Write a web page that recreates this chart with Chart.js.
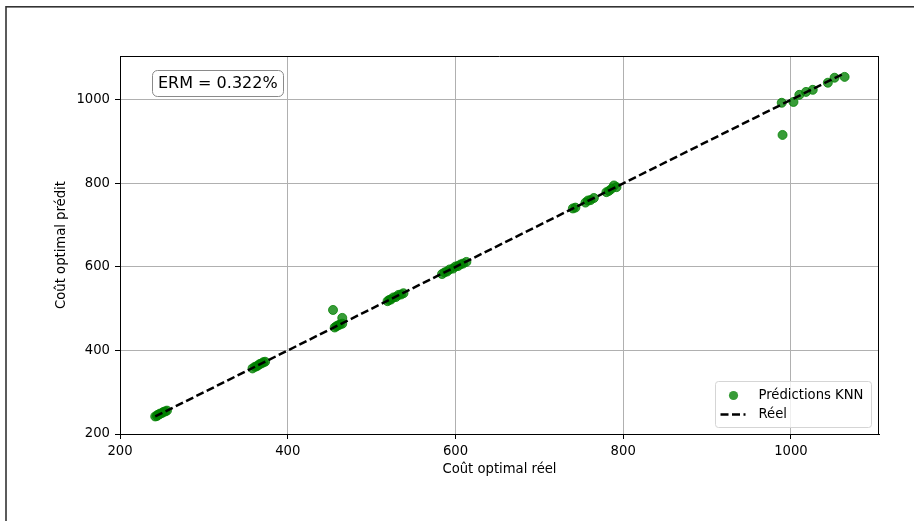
<!DOCTYPE html>
<html>
<head>
<meta charset="utf-8">
<script src="https://cdn.jsdelivr.net/npm/chart.js@4.4.1/dist/chart.umd.min.js"></script>
<style>
  html, body { margin: 0; padding: 0; background: #fff; }
  #wrap { position: relative; width: 914px; height: 521px; }
</style>
</head>
<body>
<div id="wrap"><canvas id="knnChart" width="914" height="521"></canvas></div>
<script>
'use strict'

// Coût réel vs coût prédit par le KNN
const coutReel = [
  242, 244, 245, 247, 248, 250, 252, 254, 256,
  358, 361, 363, 365, 367, 369, 371, 373,
  454, 456, 458, 460, 462, 465, 465,
  519, 521, 523, 526, 529, 532, 535, 538,
  584, 587, 590, 593, 597, 600, 603, 606, 609, 613,
  740, 743,
  755, 758, 761, 765,
  780, 783, 786, 789, 792,
  989, 990, 1003, 1010, 1018, 1026, 1044, 1052, 1064
]
const coutPredit = [
  242, 243, 246, 247, 249, 250, 253, 254, 256,
  357, 361, 362, 365, 368, 369, 372, 373,
  497, 455, 458, 460, 462, 478, 464,
  518, 521, 522, 527, 528, 533, 534, 537,
  583, 587, 589, 594, 596, 601, 602, 606, 608, 612,
  740, 742,
  754, 759, 760, 765,
  779, 782, 787, 795, 791,
  993, 916, 995, 1012, 1019, 1024, 1041, 1053, 1055
]

const tickValues = [200, 400, 600, 800, 1000]
const axisMin = 200
const axisMax = 1105
const ermText = 'ERM = 0.322%'
const legendLabels = ['Prédictions KNN', 'Réel']

const pointGreen = 'rgba(0, 128, 0, 0.78)'
const fontFamily = "'DejaVu Sans', sans-serif"
const textSize = 13.2

const points = coutReel.map((v, i) => ({x: v, y: coutPredit[i]}))
const lo = Math.min(...coutReel)
const hi = Math.max(...coutReel)
const diagonal = [{x: lo, y: lo}, {x: hi, y: hi}]

function setTicks(scale) {
  scale.ticks = tickValues.map(v => ({value: v}))
}

function axisOptions(fit) {
  return {
    type: 'linear',
    min: axisMin,
    max: axisMax,
    afterBuildTicks: setTicks,
    afterFit: fit,
    grid: {color: '#b0b0b0', lineWidth: 1, tickColor: '#000', tickLength: 5},
    border: {color: '#000', width: 1},
    ticks: {
      color: '#000',
      padding: 5,
      maxRotation: 0,
      font: {family: fontFamily, size: textSize},
      callback: v => String(v)
    }
  }
}

// Cadre, axes du haut/droite, titres, encadré ERM et légende
const decor = {
  id: 'decor',
  beforeDraw(chart) {
    const ctx = chart.ctx
    ctx.save()
    ctx.fillStyle = '#fff'
    ctx.fillRect(0, 0, chart.width, chart.height)
    ctx.strokeStyle = '#333'
    ctx.lineWidth = 1.6
    ctx.strokeRect(6, 6.8, 2000, 2000)
    ctx.restore()
  },
  afterDraw(chart) {
    const {ctx, chartArea: a} = chart
    ctx.save()

    // spines haut et droite
    ctx.strokeStyle = '#000'
    ctx.lineWidth = 1
    ctx.beginPath()
    ctx.moveTo(a.left, a.top + 0.5)
    ctx.lineTo(a.right, a.top + 0.5)
    ctx.moveTo(a.right - 0.5, a.top)
    ctx.lineTo(a.right - 0.5, a.bottom)
    ctx.stroke()

    // titres des axes
    ctx.fillStyle = '#000'
    ctx.font = `${textSize}px ${fontFamily}`
    ctx.textAlign = 'center'
    ctx.textBaseline = 'middle'
    ctx.fillText('Coût optimal réel', (a.left + a.right) / 2, a.bottom + 36)
    ctx.save()
    ctx.translate(a.left - 58, (a.top + a.bottom) / 2)
    ctx.rotate(-Math.PI / 2)
    ctx.fillText('Coût optimal prédit', 0, 0)
    ctx.restore()

    // encadré ERM
    ctx.beginPath()
    ctx.roundRect(a.left + 32.5, a.top + 14.5, 131, 26, 5)
    ctx.fillStyle = '#fff'
    ctx.fill()
    ctx.strokeStyle = '#8a8a8a'
    ctx.stroke()
    ctx.fillStyle = '#000'
    ctx.font = `16px ${fontFamily}`
    ctx.textAlign = 'left'
    ctx.fillText(ermText, a.left + 38, a.top + 28)

    // légende
    const lx = a.right - 163.5
    const ly = a.bottom - 52.5
    ctx.beginPath()
    ctx.roundRect(lx, ly, 156, 46, 3)
    ctx.fillStyle = 'rgba(255, 255, 255, 0.8)'
    ctx.fill()
    ctx.strokeStyle = '#d5d5d5'
    ctx.stroke()

    ctx.beginPath()
    ctx.arc(lx + 18, ly + 14, 4.6, 0, Math.PI * 2)
    ctx.fillStyle = pointGreen
    ctx.fill()

    ctx.beginPath()
    ctx.setLineDash([8, 3.5])
    ctx.lineWidth = 2.5
    ctx.strokeStyle = '#000'
    ctx.moveTo(lx + 5, ly + 33)
    ctx.lineTo(lx + 30, ly + 33)
    ctx.stroke()
    ctx.setLineDash([])

    ctx.fillStyle = '#000'
    ctx.font = `${textSize}px ${fontFamily}`
    ctx.fillText(legendLabels[0], lx + 43, ly + 14)
    ctx.fillText(legendLabels[1], lx + 43, ly + 33)
    ctx.restore()
  }
}

new Chart(document.getElementById('knnChart'), {
  type: 'scatter',
  data: {
    datasets: [
      {
        label: legendLabels[1],
        data: diagonal,
        showLine: true,
        borderColor: '#000',
        borderWidth: 2.5,
        borderDash: [8, 3.5],
        pointRadius: 0,
        order: 0
      },
      {
        label: legendLabels[0],
        data: points,
        backgroundColor: pointGreen,
        borderColor: pointGreen,
        borderWidth: 1,
        pointRadius: 4.5,
        order: 1
      }
    ]
  },
  options: {
    responsive: false,
    animation: false,
    devicePixelRatio: 1,
    layout: {padding: {top: 56, right: 35, bottom: 0, left: 0}},
    scales: {
      x: axisOptions(s => { s.height = 87 }),
      y: axisOptions(s => { s.width = 120 })
    },
    plugins: {
      legend: {display: false},
      tooltip: {enabled: false}
    }
  },
  plugins: [decor]
})
</script>
</body>
</html>
